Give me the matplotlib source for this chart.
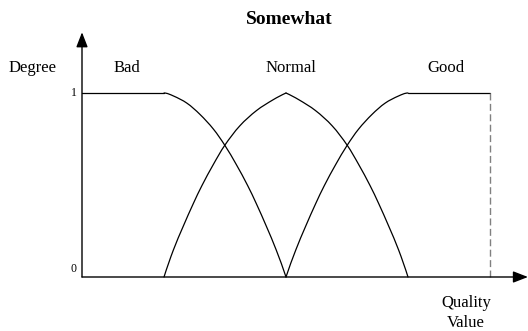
"""
Fuzzy membership sets with the 'somewhat' hedge
"""

import numpy as np
import matplotlib.pyplot as plt
from matplotlib.path import Path
from matplotlib.patches import PathPatch

# membership curves (x = quality value 0..1, y = degree)
bad_x = [0.0, 0.201, 0.224, 0.257, 0.289, 0.322, 0.350, 0.378, 0.406,
         0.427, 0.452, 0.476, 0.5]
bad_y = [1.0, 1.0, 0.984, 0.945, 0.884, 0.804, 0.716, 0.612, 0.497,
         0.400, 0.275, 0.147, 0.0]

# normal is two arcs meeting in a point at the peak
normal_up_x = [0.201, 0.224, 0.248, 0.273, 0.294, 0.322, 0.350, 0.387,
               0.428, 0.469, 0.5]
normal_up_y = [0.0, 0.147, 0.275, 0.400, 0.497, 0.612, 0.716, 0.822,
               0.905, 0.964, 1.0]
normal_down_x = [0.5, 0.531, 0.572, 0.613, 0.650, 0.678, 0.706, 0.727,
                 0.752, 0.776, 0.799]
normal_down_y = [1.0, 0.964, 0.905, 0.822, 0.716, 0.612, 0.497, 0.400,
                 0.275, 0.147, 0.0]

good_x = [0.5, 0.524, 0.548, 0.573, 0.594, 0.622, 0.650, 0.678, 0.711,
          0.743, 0.776, 0.799, 1.0]
good_y = [0.0, 0.147, 0.275, 0.400, 0.497, 0.612, 0.716, 0.804, 0.884,
          0.945, 0.984, 1.0, 1.0]

set_names = ["Bad", "Normal", "Good"]
tick_values = [0, 1]
tick_labels = ["0", "1"]

W, H = 528, 331
BOX_W, BOX_H = 408, 184
# label positions in pixels (centre x, baseline y)
set_label_px = [(127, 72), (291, 72), (446, 72)]


def px(x, y):
    # pixel position -> figure fraction
    return x / W, 1 - y / H


def smooth_path(xs, ys, flat_start=False, flat_end=False):
    # hermite curve through the read points (chord length measured in pixels)
    p = np.column_stack([xs, ys]).astype(float)
    n = len(p)
    seg = np.diff(p, axis=0)
    d = np.hypot(seg[:, 0] * BOX_W, seg[:, 1] * BOX_H)
    m = np.zeros_like(p)
    for i in range(1, n - 1):
        m[i] = (p[i + 1] - p[i - 1]) / (d[i - 1] + d[i])
    m[0] = 2 * seg[0] / d[0] - m[1]
    m[-1] = 2 * seg[-1] / d[-1] - m[-2]
    if flat_start:
        m[0] = [np.sign(seg[0, 0]) / BOX_W, 0]
    if flat_end:
        m[-1] = [np.sign(seg[-1, 0]) / BOX_W, 0]
    verts = [tuple(p[0])]
    codes = [Path.MOVETO]
    for i in range(n - 1):
        c1 = p[i] + m[i] * d[i] / 3
        c2 = p[i + 1] - m[i + 1] * d[i] / 3
        verts += [tuple(c1), tuple(c2), tuple(p[i + 1])]
        codes += [Path.CURVE4] * 3
    return Path(verts, codes)


def main():
    plt.rcParams['font.family'] = ['Liberation Serif', 'DejaVu Serif']

    fig = plt.figure(figsize=(W / 100, H / 100), dpi=100)
    # data box: x 0..1 -> px 82..490, y 0..1 -> px 277..93
    ax = fig.add_axes([82 / W, (H - 277) / H, BOX_W / W, BOX_H / H])
    ax.set_xlim(0, 1)
    ax.set_ylim(0, 1)
    ax.axis('off')

    line_kw = dict(color='black', lw=0.9, clip_on=False, solid_capstyle='round')
    # flat shoulders
    ax.plot(bad_x[:2], bad_y[:2], **line_kw)
    ax.plot(good_x[-2:], good_y[-2:], **line_kw)

    curves = [(bad_x[1:], bad_y[1:], True, False),
              (normal_up_x, normal_up_y, False, False),
              (normal_down_x, normal_down_y, False, False),
              (good_x[:-1], good_y[:-1], False, True)]
    for xs, ys, fs, fe in curves:
        patch = PathPatch(smooth_path(xs, ys, fs, fe), facecolor='none',
                          edgecolor='black', lw=0.9, clip_on=False,
                          joinstyle='round', capstyle='round')
        ax.add_patch(patch)

    # dashed end of domain
    ax.plot([1, 1], [0, 1], color='#808080', lw=1.0, ls=(0, (5, 2.5)),
            clip_on=False)

    # axes with arrows
    arrow = dict(arrowstyle='-|>,head_length=0.9,head_width=0.35',
                 color='black', lw=1.0, shrinkA=0, shrinkB=0,
                 mutation_scale=10)
    ax.annotate('', xy=(0, 1.33), xytext=(0, 0), annotation_clip=False,
                arrowprops=arrow)
    ax.annotate('', xy=(1.093, 0), xytext=(0, 0), annotation_clip=False,
                arrowprops=arrow)

    for v, lab in zip(tick_values, tick_labels):
        ax.text(-0.021, v + (0.043 if v == 0 else 0), lab, fontsize=8.5,
                ha='center', va='center')

    for name, (lx, ly) in zip(set_names, set_label_px):
        fig.text(*px(lx, ly), name, fontsize=12, ha='center', va='baseline')

    fig.text(*px(32.5, 72), "Degree", fontsize=12, ha='center', va='baseline')
    fig.text(*px(289, 23.5), "Somewhat", fontsize=14, fontweight='bold',
             ha='center', va='baseline')
    fig.text(*px(466, 307), "Quality", fontsize=12, ha='center', va='baseline')
    fig.text(*px(466, 327), "Value", fontsize=12, ha='center', va='baseline')

    fig.savefig('out.png', dpi=100)
    return 0


if __name__ == '__main__':
    main()
